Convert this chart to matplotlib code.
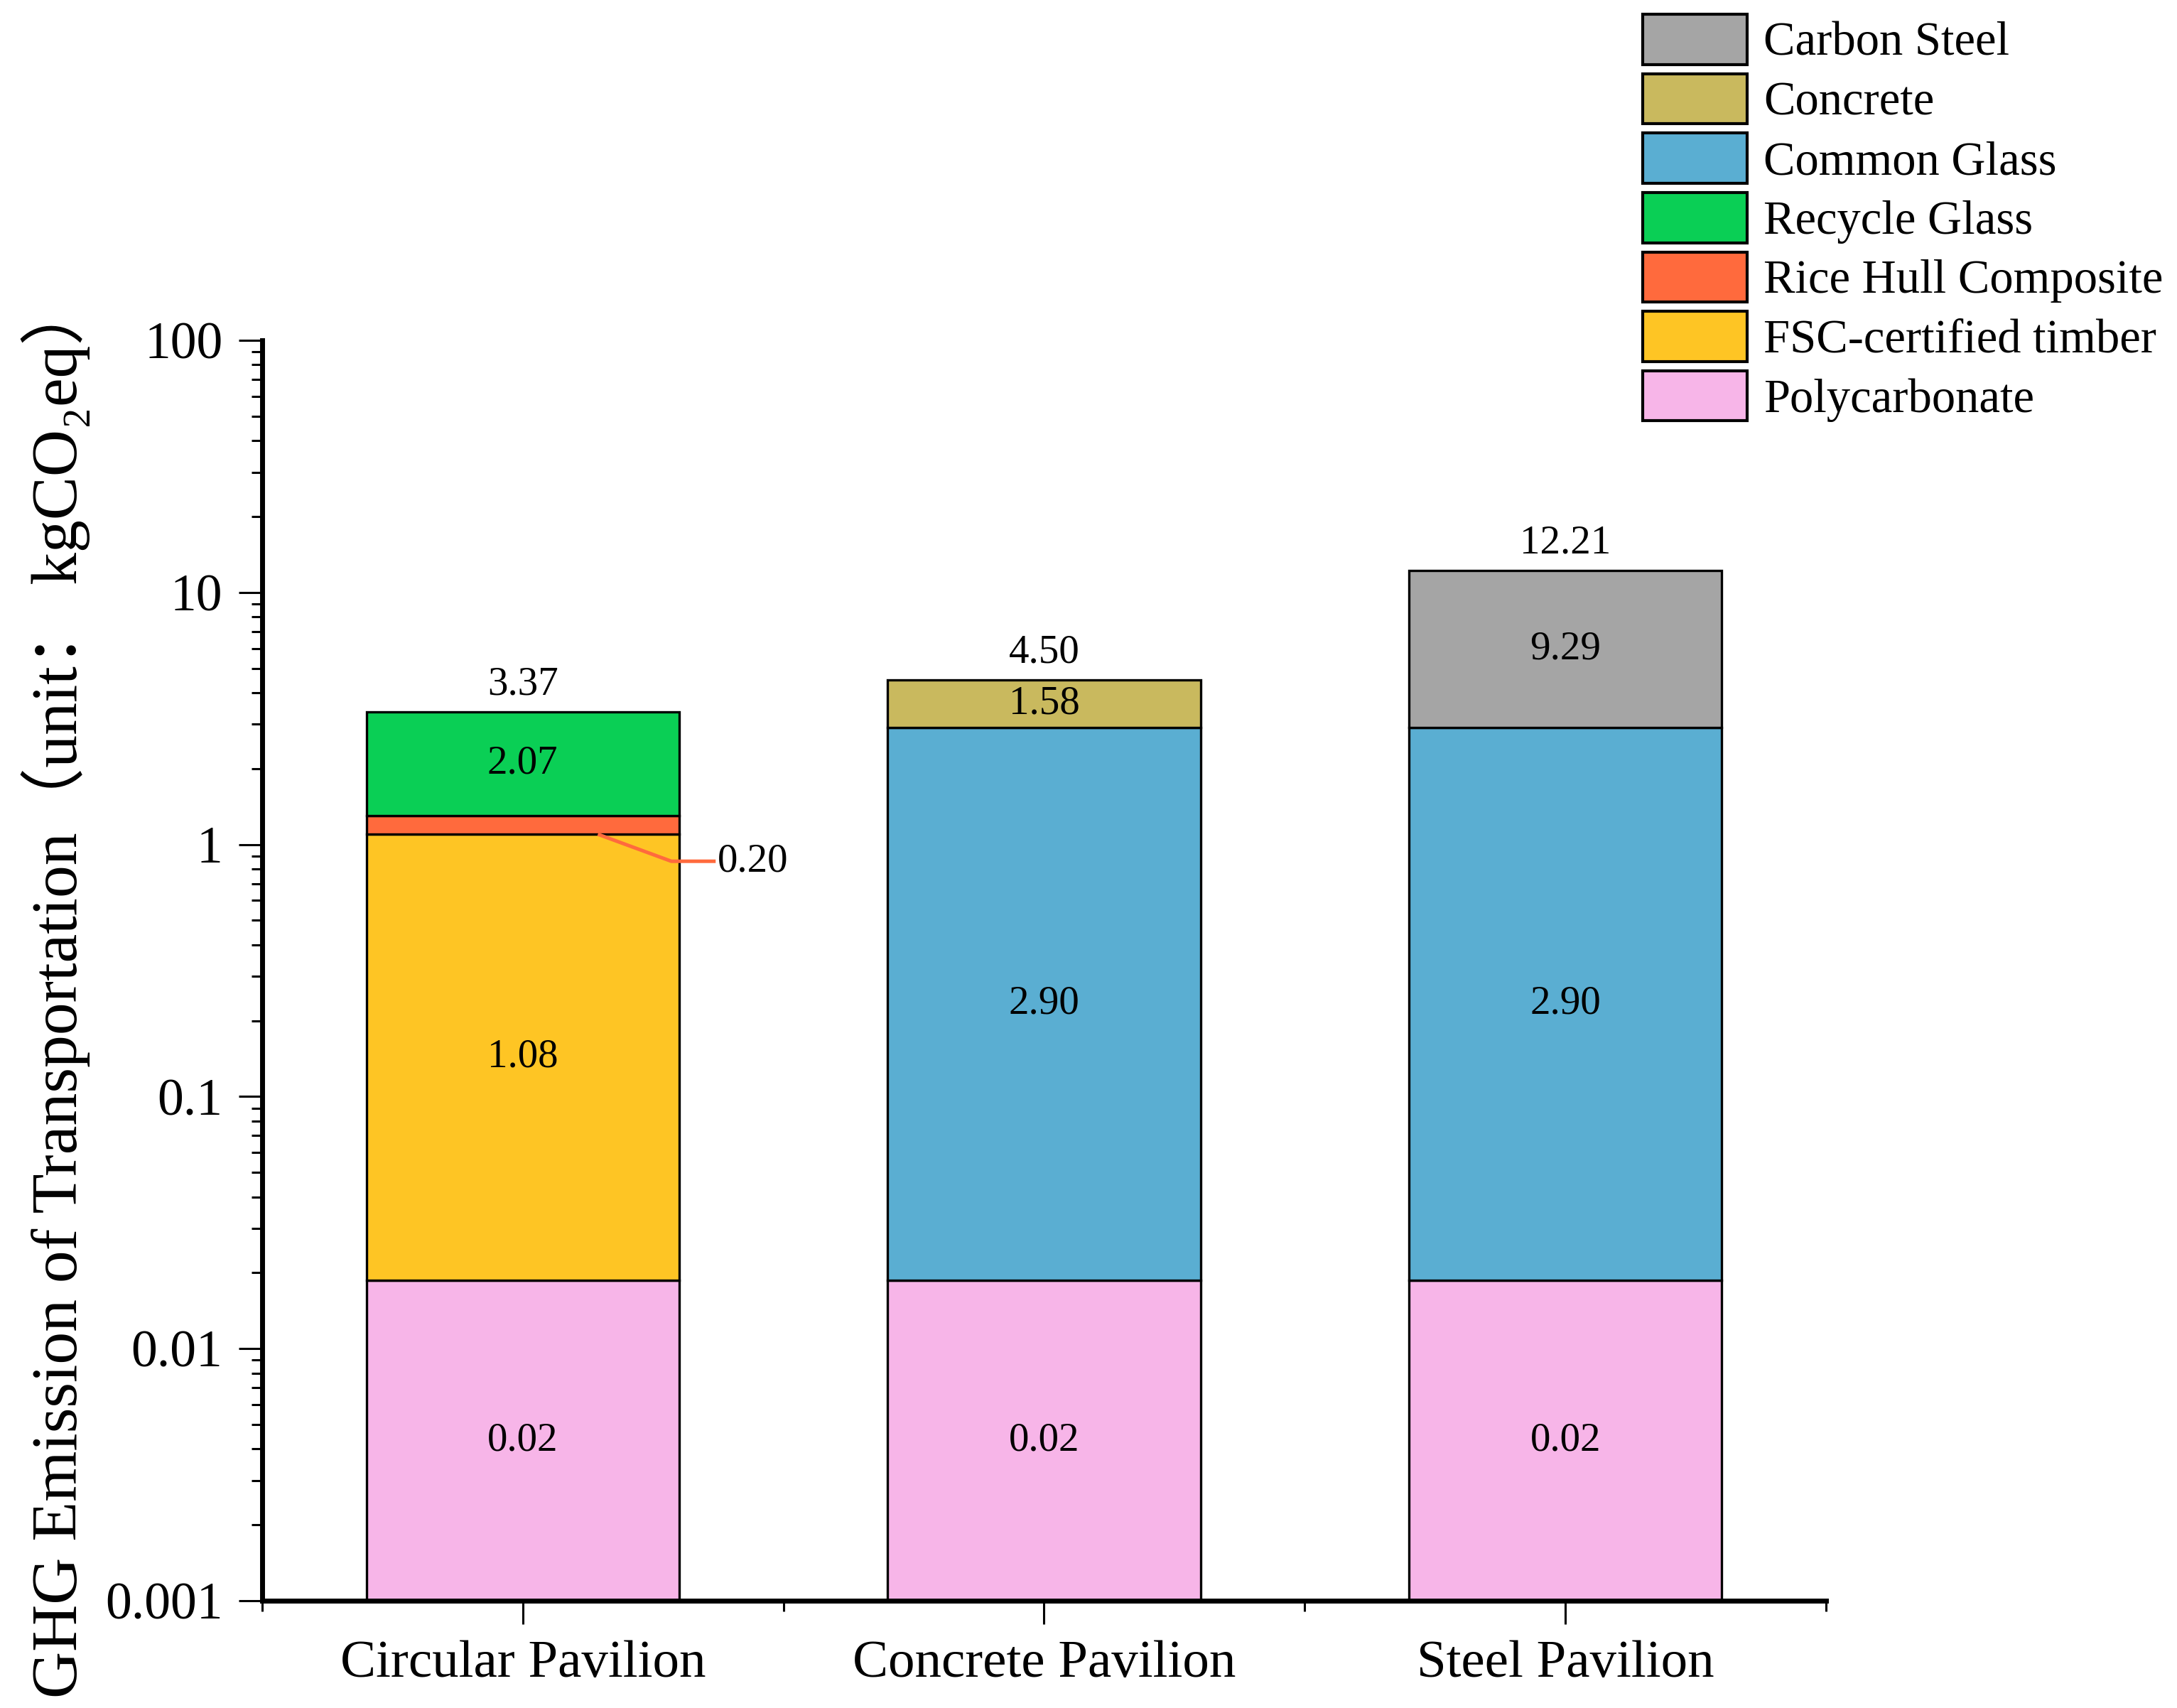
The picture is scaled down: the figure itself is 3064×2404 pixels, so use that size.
import numpy as np
import matplotlib
matplotlib.use("Agg")
import matplotlib.pyplot as plt
from matplotlib.patches import Patch
from matplotlib.ticker import FuncFormatter, LogLocator

plt.rcParams['font.family'] = ['Liberation Serif', 'Noto Sans CJK SC', 'DejaVu Sans']

# data (kgCO2eq)
pavilions = ["Circular Pavilion", "Concrete Pavilion", "Steel Pavilion"]
materials = ["Polycarbonate", "FSC-certified timber", "Rice Hull Composite",
             "Recycle Glass", "Common Glass", "Concrete", "Carbon Steel"]
polycarbonate = [0.0187, 0.0187, 0.0187]
fsc_timber = [1.08, 0.0, 0.0]
rice_hull = [0.20, 0.0, 0.0]
recycle_glass = [2.07, 0.0, 0.0]
common_glass = [0.0, 2.90, 2.90]
concrete = [0.0, 1.58, 0.0]
carbon_steel = [0.0, 0.0, 9.29]
y_ticks = [0.001, 0.01, 0.1, 1, 10, 100]

series = [polycarbonate, fsc_timber, rice_hull, recycle_glass,
          common_glass, concrete, carbon_steel]
colors = ["#F7B5E8", "#FEC524", "#FF6A3D", "#0ACF55",
          "#5AAED2", "#C9B95E", "#A5A5A5"]

fig = plt.figure(figsize=(15.32, 12.02), dpi=200)
ax = fig.add_axes([0.1204, 0.0628, 0.7184, 0.7379])
ax.set_yscale("log")

x = np.arange(len(pavilions))
width = 0.6
bottoms = np.zeros(len(pavilions))

for vals, col, name in zip(series, colors, materials):
    vals = np.array(vals)
    for i in range(len(pavilions)):
        v = vals[i]
        if v <= 0:
            continue
        b = bottoms[i]
        ax.bar(x[i], v, width, bottom=b, color=col, edgecolor="black",
               linewidth=1.2, zorder=2)
        top = b + v
        if name == "Rice Hull Composite":
            # label outside with an orange leader line
            y0 = b
            y1 = b / 1.28
            xs = [x[i] + 0.144, x[i] + width / 2 - 0.015, x[i] + 0.37]
            ax.plot(xs, [y0, y1, y1], color=col, lw=1.8, zorder=3,
                    solid_capstyle="butt")
            ax.text(xs[-1] + 0.003, y1, f"{v:.2f}", ha="left", va="center",
                    fontsize=20.5, zorder=4)
        else:
            lo = b if b > 0 else y_ticks[0]
            ymid = np.sqrt(lo * top)
            ax.text(x[i], ymid, f"{v:.2f}", ha="center", va="center",
                    fontsize=20.5, zorder=4)
    bottoms = bottoms + vals

for i in range(len(pavilions)):
    ax.annotate(f"{bottoms[i]:.2f}", xy=(x[i], bottoms[i]),
                xytext=(0, 4.5), textcoords="offset points",
                ha="center", va="bottom", fontsize=20.5)

ax.set_xlim(-0.5, len(pavilions) - 0.5)
ax.set_ylim(y_ticks[0], y_ticks[-1])

ax.set_xticks(x)
ax.set_xticklabels(pavilions, fontsize=27)
ax.set_xticks(np.arange(-0.5, len(pavilions), 1.0), minor=True)

ax.set_yticks(y_ticks)
ax.yaxis.set_major_formatter(FuncFormatter(lambda v, p: f"{v:g}"))
ax.yaxis.set_minor_locator(LogLocator(base=10, subs=np.arange(2, 10)))
ax.tick_params(axis="y", labelsize=26.5)

ax.tick_params(which="major", direction="out", length=12, width=1.1, pad=8)
ax.tick_params(which="minor", direction="out", length=5.5, width=1.1)

for s in ["top", "right"]:
    ax.spines[s].set_visible(False)
for s in ["left", "bottom"]:
    ax.spines[s].set_linewidth(2.5)

fig.text(0.0255, 0.421, "GHG Emission of Transportation（unit： kgCO₂eq）",
         rotation=90, ha="center", va="center", fontsize=33)

handles = [Patch(facecolor=c, edgecolor="black", linewidth=1.5, label=m)
           for m, c in zip(materials, colors)][::-1]
fig.legend(handles=handles, loc="upper left",
           bbox_to_anchor=(2312 / 3064, 1 - 20 / 2404),
           frameon=False, fontsize=24, handlelength=2.2, handleheight=1.25,
           handletextpad=0.35, labelspacing=0.18, borderpad=0, borderaxespad=0)

fig.savefig("out.png", dpi=200)
